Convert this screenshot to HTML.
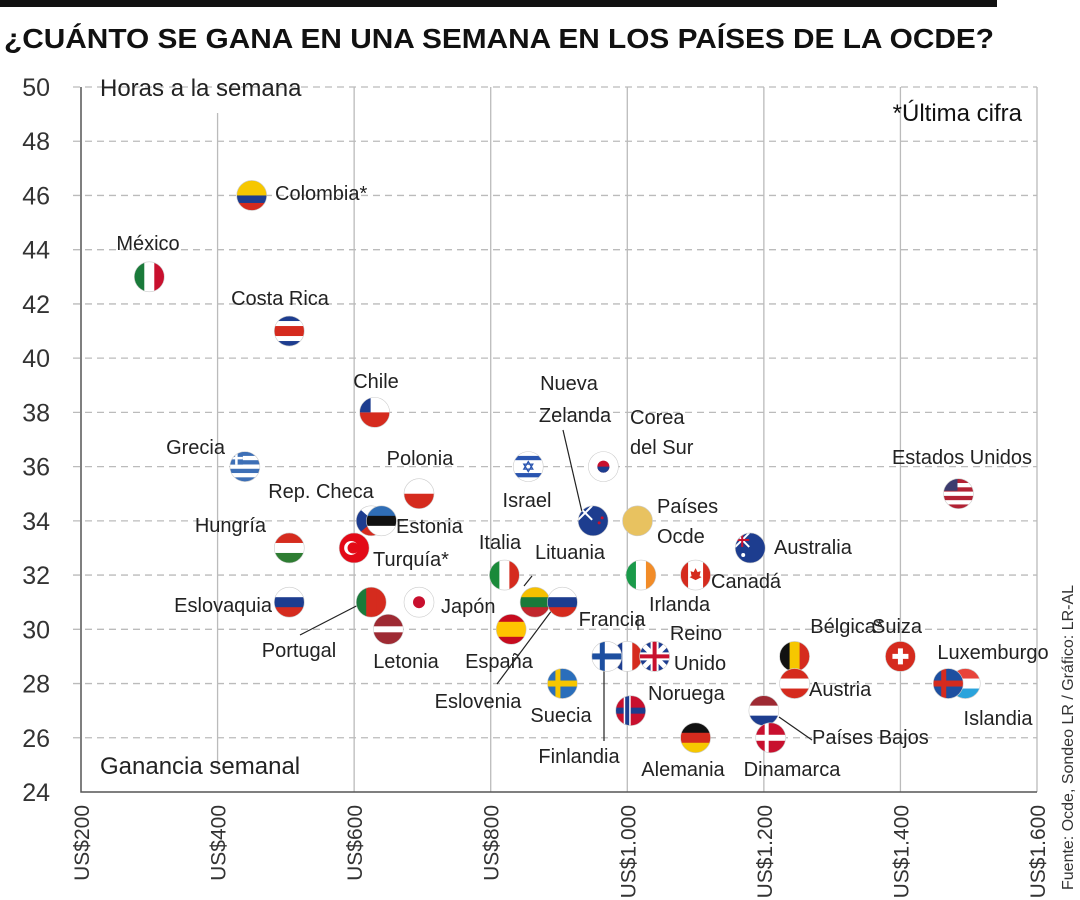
<!DOCTYPE html>
<html><head><meta charset="utf-8"><style>
html,body{margin:0;padding:0;background:#fff;}
svg{display:block;font-family:"Liberation Sans",sans-serif;}
</style></head><body>
<svg id="chart" width="1080" height="900" viewBox="0 0 1080 900">
<rect x="0" y="0" width="997" height="7" fill="#111"/>
<text x="4" y="48" font-weight="bold" font-size="28" fill="#111" textLength="990" lengthAdjust="spacingAndGlyphs">¿CUÁNTO SE GANA EN UNA SEMANA EN LOS PAÍSES DE LA OCDE?</text>
<g id="grid"></g>
<g id="axes"></g>
<g id="leaders" stroke="#222" stroke-width="1.2"></g>
<g id="points"></g>
<g id="labels" font-size="20" fill="#222"></g>
<text x="100" y="96" font-size="24" fill="#222">Horas a la semana</text>
<text x="100" y="774" font-size="24" fill="#222">Ganancia semanal</text>
<text x="1022" y="121" text-anchor="end" font-size="24" fill="#111">*Última cifra</text>
<text transform="translate(1073,890) rotate(-90)" font-size="16" fill="#333">Fuente: Ocde, Sondeo LR / Gráfico: LR-AL</text>
</svg>
<script>
const xTicks=[200,400,600,800,1000,1200,1400,1600];
const xTickLabels=["US$200","US$400","US$600","US$800","US$1.000","US$1.200","US$1.400","US$1.600"];
const yTicks=[24,26,28,30,32,34,36,38,40,42,44,46,48,50];
const countries=["Colombia*","México","Costa Rica","Chile","Grecia","Polonia","Rep. Checa","Estonia","Hungría","Turquía*","Eslovaquia","Portugal","Letonia","Japón","Italia","Lituania","Eslovenia","España","Suecia","Israel","Nueva Zelanda","Corea del Sur","Países Ocde","Irlanda","Canadá","Australia","Francia","Finlandia","Reino Unido","Noruega","Alemania","Bélgica*","Austria","Países Bajos","Dinamarca","Suiza","Luxemburgo","Islandia","Estados Unidos"];
const earnings=[450,300,505,630,440,695,625,640,505,600,505,625,650,695,820,865,905,830,905,855,950,965,1015,1020,1100,1180,1000,970,1040,1005,1100,1245,1245,1200,1210,1400,1495,1470,1485];
const hours=[46,43,41,38,36,35,34,34,33,33,31,31,30,31,32,31,31,30,28,36,34,36,34,32,32,33,29,29,29,27,26,29,28,27,26,29,28,28,35];

const X0=81,X1=1037,Y0=792,Y1=87;
const xs=v=>X0+(v-200)/(1600-200)*(X1-X0);
const ys=v=>Y0-(v-24)/(50-24)*(Y0-Y1);
const NS="http://www.w3.org/2000/svg";
function mk(tag,attrs,parent){const e=document.createElementNS(NS,tag);for(const k in attrs)e.setAttribute(k,attrs[k]);parent.appendChild(e);return e;}
const grid=document.getElementById('grid'),axes=document.getElementById('axes');
yTicks.forEach((t,i)=>{
  if(t>24){const l=mk('line',{x1:X0-8,x2:X1,y1:ys(t),y2:ys(t),stroke:'#bbb','stroke-width':1.3,'stroke-dasharray':'7 5'},grid);
  
  }
  const tx=mk('text',{x:50,y:ys(t)+9,'text-anchor':'end','font-size':25,fill:'#333'},axes);tx.textContent=t;
  
  
});
xTicks.forEach((t,i)=>{
  if(i>0){const l=mk('line',{x1:xs(t),x2:xs(t),y1:i==1?113:Y1,y2:i==1?767:Y0,stroke:'#bbb','stroke-width':1.3},grid);
  
  }
  const tx=mk('text',{transform:`translate(${xs(t)+8},805) rotate(-90)`,'text-anchor':'end','font-size':21,fill:'#333'},axes);tx.textContent=xTickLabels[i];
  
  
});
const ax=mk('path',{d:`M${X0} ${Y1}V${Y0}H${X1}`,fill:'none',stroke:'#555','stroke-width':1.5},axes);



const flags={
"Colombia*":['h',["#f6c700","#f6c700","#1d3d8f","#d52b1e"]],"México":['v',["#1a7a3a","#fff","#c8102e"]],"Costa Rica":['h',["#1d3d8f","#fff","#d52b1e","#d52b1e","#fff","#1d3d8f"]],
"Chile":['h',["#fff","#d52b1e"]],"Grecia":['h',["#3d6fb6","#fff","#3d6fb6","#fff","#3d6fb6","#fff","#3d6fb6"]],"Polonia":['h',["#fff","#d52b1e"]],
"Rep. Checa":['h',["#fff","#d52b1e"]],"Estonia":['h',["#2f6db5","#111","#fff"]],"Hungría":['h',["#d52b1e","#fff","#2e7d32"]],"Turquía*":['h',["#e30a17"]],
"Eslovaquia":['h',["#fff","#1d3d8f","#d52b1e"]],"Portugal":['v',["#1a7a3a","#d52b1e","#d52b1e"]],"Letonia":['h',["#9e2a33","#9e2a33","#fff","#9e2a33","#9e2a33"]],
"Japón":['h',["#fff"]],"Italia":['v',["#1a8a3a","#fff","#d52b1e"]],"Lituania":['h',["#f6c000","#1a7a3a","#c1272d"]],"Eslovenia":['h',["#fff","#1d3d8f","#d52b1e"]],
"España":['h',["#c60b1e","#ffc400","#ffc400","#c60b1e"]],"Suecia":['h',["#2a6ebb","#2a6ebb","#f7c600","#2a6ebb","#2a6ebb"]],"Israel":['h',["#fff","#2a55b0","#fff","#fff","#fff","#2a55b0","#fff"]],
"Nueva Zelanda":['h',["#1d3d8f"]],"Corea del Sur":['h',["#fff"]],"Países Ocde":['h',["#e8c260"]],"Irlanda":['v',["#1a9a4a","#fff","#f28c28"]],
"Canadá":['v',["#d52b1e","#fff","#fff","#d52b1e"]],"Australia":['h',["#1d3d8f"]],"Francia":['v',["#1d3d8f","#fff","#d52b1e"]],
"Finlandia":['h',["#fff","#fff","#1d4fa0","#fff","#fff"]],"Reino Unido":['h',["#1d3d8f"]],"Noruega":['h',["#c8102e","#c8102e","#1d3d8f","#c8102e","#c8102e"]],
"Alemania":['h',["#111","#d52b1e","#f6c700"]],"Bélgica*":['v',["#111","#f6c700","#d52b1e"]],"Austria":['h',["#d52b1e","#fff","#d52b1e"]],
"Países Bajos":['h',["#9e2a33","#fff","#1d3d8f"]],"Dinamarca":['h',["#c8102e","#c8102e","#fff","#c8102e","#c8102e"]],"Suiza":['h',["#d52b1e"]],
"Luxemburgo":['h',["#e8433a","#fff","#2aa3dc"]],"Islandia":['h',["#1d4fa0","#1d4fa0","#d52b1e","#1d4fa0","#1d4fa0"]],"Estados Unidos":['h',["#b22234","#fff","#b22234","#fff","#b22234","#fff","#b22234"]]};
const extras={"Japón":'<circle r="6" fill="#c8102e"/>',"Suiza":'<path d="M-2.5-8h5v5.5h5.5v5h-5.5v5.5h-5v-5.5h-5.5v-5h5.5z" fill="#fff"/>',
"Turquía*":'<circle cx="-3" r="7" fill="#fff"/><circle cx="-1" r="5.6" fill="#e30a17"/>',"Corea del Sur":'<circle r="6" fill="#c8102e"/><path d="M-6 0a6 6 0 0 0 12 0z" fill="#1d3d8f"/>',
"Canadá":'<path d="M0-7l2 4 3-1-1 5 2 1-6 3-6-3 2-1-1-5 3 1z" fill="#d52b1e"/>',"Estados Unidos":'<rect x="-15" y="-15" width="14" height="12" fill="#3c3b6e"/>',
"Reino Unido":'<path d="M-15-15L15 15M15-15L-15 15" stroke="#fff" stroke-width="5"/><path d="M0-15V15M-15 0H15" stroke="#fff" stroke-width="8"/><path d="M0-15V15M-15 0H15" stroke="#c8102e" stroke-width="4"/>',
"Nueva Zelanda":'<rect x="-15" y="-15" width="14" height="14" fill="#1d3d8f"/><path d="M-15-15L-1-1M-1-15L-15-1" stroke="#fff" stroke-width="2"/><circle cx="6" cy="2" r="1.5" fill="#c8102e"/><circle cx="9" cy="-3" r="1.5" fill="#c8102e"/>',
"Australia":'<path d="M-15-15L-1-1M-1-15L-15-1" stroke="#fff" stroke-width="2"/><path d="M-8-15V-1M-15-8H-1" stroke="#c8102e" stroke-width="2"/><circle cx="-7" cy="7" r="2" fill="#fff"/>',
"Finlandia":'<rect x="-7" y="-15" width="5" height="30" fill="#1d4fa0"/>',"Noruega":'<rect x="-7" y="-15" width="7" height="30" fill="#fff"/><rect x="-5.5" y="-15" width="4" height="30" fill="#1d3d8f"/>',
"Dinamarca":'<rect x="-6" y="-15" width="4" height="30" fill="#fff"/>',"Suecia":'<rect x="-7" y="-15" width="5" height="30" fill="#f7c600"/>',
"Islandia":'<rect x="-7" y="-15" width="5" height="30" fill="#d52b1e"/>',"Grecia":'<rect x="-15" y="-15" width="13" height="13" fill="#3d6fb6"/><path d="M-8.5-15v13M-15-8.5h13" stroke="#fff" stroke-width="2.5"/>',
"Chile":'<rect x="-15" y="-15" width="11" height="15" fill="#1d3d8f"/>',"Rep. Checa":'<path d="M-15-15L2 0-15 15z" fill="#1d3d8f"/>',"Israel":'<path d="M0-5l4.5 7.5h-9zM0 5l4.5-7.5h-9z" fill="none" stroke="#2a55b0" stroke-width="1.3"/>'};
const pts=document.getElementById('points');
countries.forEach((c,i)=>{
  const g=mk('g',{transform:`translate(${xs(earnings[i])},${ys(hours[i])})`},pts);
  
  
  const id='cp'+i;
  let s=`<clipPath id="${id}"><circle r="15"/></clipPath><g clip-path="url(#${id})">`;
  const [dir,cols]=flags[c];const n=cols.length;
  cols.forEach((col,k)=>{ if(dir==='h') s+=`<rect x="-15" y="${-15+30*k/n}" width="30" height="${30/n+0.5}" fill="${col}"/>`; else s+=`<rect x="${-15+30*k/n}" y="-15" width="${30/n+0.5}" height="30" fill="${col}"/>`;});
  s+=(extras[c]||'')+`</g><circle r="15" fill="none" stroke="#ccc" stroke-width="0.6"/>`;
  g.innerHTML=s;
});
const lab={"Colombia*":[275,200,'start'],"México":[148,250,'middle'],"Costa Rica":[280,305,'middle'],"Chile":[376,388,'middle'],"Grecia":[225,454,'end'],
"Polonia":[420,465,'middle'],"Rep. Checa":[321,498,'middle'],"Estonia":[396,533,'start'],"Hungría":[266,532,'end'],"Turquía*":[373,566,'start'],
"Eslovaquia":[272,612,'end'],"Portugal":[299,657,'middle'],"Letonia":[406,668,'middle'],"Japón":[441,613,'start'],"Italia":[500,549,'middle'],
"Lituania":[570,559,'middle'],"Eslovenia":[478,708,'middle'],"España":[499,668,'middle'],"Suecia":[561,722,'middle'],"Israel":[527,507,'middle'],
"Corea del Sur":[630,424,'start'],"Países Ocde":[657,513,'start'],"Irlanda":[649,611,'start'],"Canadá":[711,588,'start'],"Australia":[774,554,'start'],
"Francia":[612,626,'middle'],"Finlandia":[579,763,'middle'],"Noruega":[648,700,'start'],"Alemania":[683,776,'middle'],"Bélgica*":[847,633,'middle'],
"Austria":[809,696,'start'],"Países Bajos":[812,744,'start'],"Dinamarca":[792,776,'middle'],"Suiza":[897,633,'middle'],"Luxemburgo":[993,659,'middle'],
"Islandia":[998,725,'middle'],"Estados Unidos":[962,464,'middle']};
const L=document.getElementById('labels');
function addLabel(txt,x,y,a,name){const t=mk('text',{x:x,y:y,'text-anchor':a},L);t.textContent=txt;
  
  }
countries.forEach(c=>{
  const p=lab[c];if(!p)return;
  const name='label-'+c.toLowerCase().replace(/[^a-záéíóúñ]+/g,'-');
  if(c==="Corea del Sur"){addLabel("Corea",p[0],p[1],p[2],name);addLabel("del Sur",p[0],p[1]+30,p[2],name);}
  else if(c==="Países Ocde"){addLabel("Países",p[0],p[1],p[2],name);addLabel("Ocde",p[0],p[1]+30,p[2],name);}
  else addLabel(c,p[0],p[1],p[2],name);
});
addLabel("Nueva",569,390,'middle','label-nueva-zelanda');addLabel("Zelanda",575,422,'middle','label-nueva-zelanda');
addLabel("Reino",696,640,'middle','label-reino-unido');addLabel("Unido",700,670,'middle','label-reino-unido');
const Ld=document.getElementById('leaders');
[[563,430,582,512],[300,635,368,600],[497,684,558,602],[524,586,532,576],[638,630,638,615],[604,741,604,660],[779,717,812,740]].forEach(a=>{
  const l=mk('line',{x1:a[0],y1:a[1],x2:a[2],y2:a[3]},Ld);
  
  
});
</script>
</body></html>
